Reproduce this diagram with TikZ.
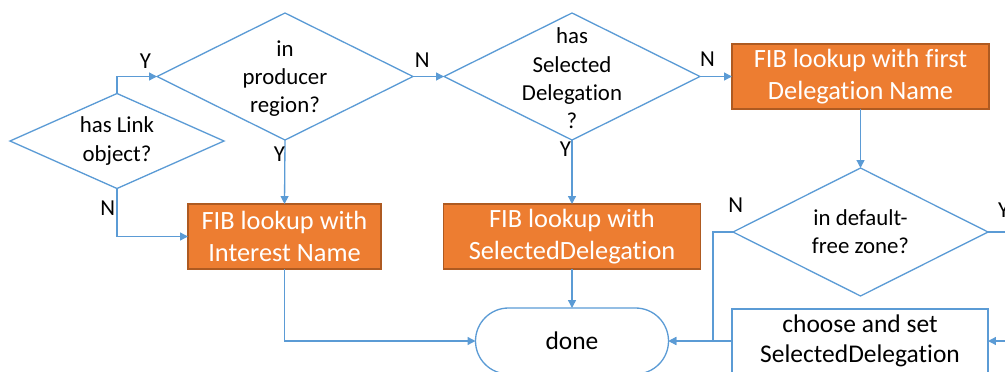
\documentclass[tikz,border=0pt]{standalone}
\usepackage{fontspec}
\setmainfont{Carlito}[Ligatures=CommonOff]
\usetikzlibrary{shapes.geometric,shapes.misc,arrows.meta,positioning}
\definecolor{lineblue}{HTML}{5B9BD5}
\definecolor{boxorange}{HTML}{ED7D31}
\definecolor{boxedge}{HTML}{AE5A21}
\begin{document}
\begin{tikzpicture}[inner sep=0pt,outer sep=0pt,line width=0.75pt,
font=\fontsize{13}{16}\selectfont,
decision/.style={draw=lineblue,diamond,line width=0.75pt},
process/.style={draw=boxedge,fill=boxorange,text=white,rectangle,align=center,font=\fontsize{15}{18}\selectfont},
plainbox/.style={draw=lineblue,fill=white,rectangle,align=center,font=\fontsize{14.5}{17.4}\selectfont},
terminal/.style={draw=lineblue,rounded rectangle,font=\fontsize{14.5}{17.4}\selectfont},
arr/.style={draw=lineblue,-{Triangle[length=4.5pt,width=4.5pt]}},
lbl/.style={text=black}]

\useasboundingbox (0,0) rectangle (20.1,-7.42);
\clip (0,0) rectangle (20.1,-7.42);

\draw (2.34,-2.82) node[decision,minimum width=4.28cm,minimum height=1.90cm,label={[align=center]center:has Link\\object?}] (link) {};
\draw (5.70,-1.53) node[decision,minimum width=5.12cm,minimum height=2.54cm,label={[align=center,yshift=-1pt]center:in\\producer\\region?}] (prod) {};
\draw (11.44,-1.53) node[decision,minimum width=5.12cm,minimum height=2.54cm,label={[align=center,yshift=-1pt]center:has\\Selected\\Delegation\\?}] (sel) {};
\draw (17.21,-1.53) node[process,minimum width=5.14cm,minimum height=1.30cm] (first) {FIB lookup with first\\Delegation Name};
\draw (5.69,-4.73) node[process,minimum width=3.86cm,minimum height=1.30cm] (interest) {FIB lookup with\\Interest Name};
\draw (11.44,-4.73) node[process,minimum width=5.14cm,minimum height=1.30cm] (seldel) {FIB lookup with\\SelectedDelegation};
\draw (17.21,-4.64) node[decision,minimum width=5.10cm,minimum height=2.56cm,label={[align=center]center:in default-\\free zone?}] (dfz) {};
\draw (11.44,-6.82) node[terminal,minimum width=3.86cm,minimum height=1.32cm] (done) {done};
\draw (17.20,-6.82) node[plainbox,minimum width=5.12cm,minimum height=1.28cm] (choose) {choose and set\\SelectedDelegation};

\draw[arr] (link.north) |- (prod.west) node[lbl,above left=4.8pt and 3.4pt] (ylink) {Y};
\draw[arr] (link.south) node[lbl,below left=7pt and 1pt] (nlink) {N} |- (interest.west);
\draw[arr] (prod.south) node[lbl,below left=4pt and 0pt] (yprod) {Y} -- (interest.north);
\draw[arr] (prod.east) node[lbl,above right=5pt and 1pt] (nprod) {N} -- (sel.west);
\draw[arr] (sel.south) node[lbl,below left=1pt and 0.5pt] (ysel) {Y} -- (seldel.north);
\draw[arr] (sel.east) node[lbl,above right=5.5pt and 0pt] (nsel) {N} -- (first.west);
\draw[arr] (first.south) -- (dfz.north);
\draw[arr] (dfz.west) node[lbl,above=11pt,xshift=1.5pt] (ndfz) {N} -- ++(-0.4,0) |- (done.east);
\draw[arr] (dfz.east) node[lbl,above right=8pt and 5.7pt] (ydfz) {Y} -- ++(0.5,0) |- (choose.east);
\draw[arr] (choose.west) -- (done.east);
\draw[arr] (interest.south) |- (done.west);
\draw[arr] (seldel.south) -- (done.north);
\end{tikzpicture}
\end{document}
